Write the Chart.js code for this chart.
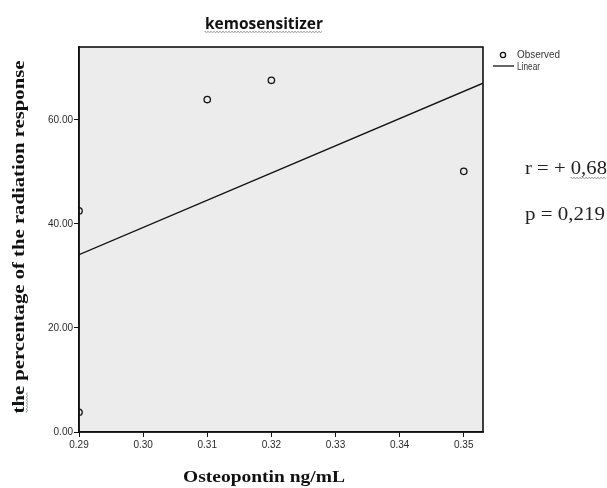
<!DOCTYPE html>
<html><head><meta charset="utf-8">
<script src="https://cdn.jsdelivr.net/npm/chart.js@4/dist/chart.umd.min.js"></script>
<style>html,body{margin:0;padding:0;background:#fff;}#wrap{width:607px;height:488px;}</style>
</head><body><div id="wrap"><canvas id="c" width="607" height="488"></canvas></div>
<script>
// ---- data ----
const osteopontin = [0.29, 0.29, 0.31, 0.32, 0.35];
const radiationResponse = [42.5, 3.8, 63.9, 67.6, 50.1];
const xTicks = [0.29, 0.30, 0.31, 0.32, 0.33, 0.34, 0.35];
const yTicks = [0, 20, 40, 60];
const xRange = [0.29, 0.353];
const yRange = [0, 74];
const chartTitle = 'kemosensitizer';
const xTitle = 'Osteopontin ng/mL';
const yTitle = 'the percentage of the radiation response';
const statLines = ['r = + 0,68', 'p = 0,219'];
const legendLabels = ['Observed', 'Linear'];

// linear fit from the observed points
function linearFit(xs, ys) {
  const n = xs.length;
  const mx = xs.reduce((a, b) => a + b, 0) / n;
  const my = ys.reduce((a, b) => a + b, 0) / n;
  let sxy = 0, sxx = 0;
  for (let i = 0; i < n; i++) { sxy += (xs[i] - mx) * (ys[i] - my); sxx += (xs[i] - mx) ** 2; }
  const b = sxy / sxx;
  return x => my + b * (x - mx);
}
const fit = linearFit(osteopontin, radiationResponse);
const observed = osteopontin.map((x, i) => ({ x, y: radiationResponse[i] }));
const fitLine = xRange.map(x => ({ x, y: fit(x) }));

function fitText(ctx, text, x, y, targetW, font, align) {
  ctx.font = font;
  const w = ctx.measureText(text).width;
  const s = targetW / w;
  ctx.save();
  ctx.translate(x, y);
  ctx.scale(s, 1);
  ctx.textAlign = align;
  ctx.fillText(text, 0, 0);
  ctx.restore();
}
function squiggle(ctx, x0, x1, y) {
  ctx.save();
  ctx.strokeStyle = '#8a95a5';
  ctx.lineWidth = 0.8;
  ctx.beginPath();
  let up = true;
  ctx.moveTo(x0, y);
  for (let x = x0; x <= x1; x += 1.5) { ctx.lineTo(x, up ? y - 1 : y + 1); up = !up; }
  ctx.stroke();
  ctx.restore();
}
function squiggleV(ctx, y0, y1, x) {
  ctx.save();
  ctx.strokeStyle = '#8a95a5';
  ctx.lineWidth = 0.8;
  ctx.beginPath();
  let up = true;
  ctx.moveTo(x, y0);
  for (let y = y0; y >= y1; y -= 1.5) { ctx.lineTo(up ? x - 1 : x + 1, y); up = !up; }
  ctx.stroke();
  ctx.restore();
}

const decor = {
  id: 'decor',
  beforeDraw(chart) {
    const { ctx, chartArea: a } = chart;
    ctx.save();
    ctx.fillStyle = '#ececec';
    ctx.fillRect(a.left, a.top, a.right - a.left, a.bottom - a.top);
    ctx.restore();
  },
  afterDraw(chart) {
    const { ctx, chartArea: a } = chart;
    ctx.save();
    ctx.strokeStyle = '#111';
    ctx.lineWidth = 1.6;
    ctx.strokeRect(a.left, a.top, a.right - a.left, a.bottom - a.top);

    // title
    ctx.fillStyle = '#111';
    ctx.textBaseline = 'alphabetic';
    fitText(ctx, chartTitle, 264, 29, 118, 'bold 16px "Open Sans", "Liberation Sans", sans-serif', 'center');
    squiggle(ctx, 205, 323, 32);

    // x title
    fitText(ctx, xTitle, 264, 482, 162, 'bold 17px "Liberation Serif", "DejaVu Serif", serif', 'center');

    // y title
    ctx.save();
    ctx.translate(24, 237);
    ctx.rotate(-Math.PI / 2);
    fitText(ctx, yTitle, 0, 0, 353, 'bold 17px "Liberation Serif", "DejaVu Serif", serif', 'center');
    ctx.restore();
    squiggleV(ctx, 412, 392, 27);

    // stats
    ctx.fillStyle = '#222';
    fitText(ctx, statLines[0], 525, 174, 82, '19px "Liberation Serif", "DejaVu Serif", serif', 'left');
    fitText(ctx, statLines[1], 525, 220, 80, '19px "Liberation Serif", "DejaVu Serif", serif', 'left');
    squiggle(ctx, 571, 606, 178);

    // legend
    ctx.strokeStyle = '#111';
    ctx.lineWidth = 1.3;
    ctx.beginPath();
    ctx.arc(503, 55, 2.6, 0, Math.PI * 2);
    ctx.stroke();
    ctx.beginPath();
    ctx.moveTo(493, 66);
    ctx.lineTo(514, 66);
    ctx.stroke();
    ctx.fillStyle = '#333';
    ctx.textBaseline = 'middle';
    fitText(ctx, legendLabels[0], 517, 55, 43, '10px "Liberation Sans", Arial, sans-serif', 'left');
    fitText(ctx, legendLabels[1], 517, 67, 23, '10px "Liberation Sans", Arial, sans-serif', 'left');
    ctx.restore();
  }
};

const tickFont = { family: '"Liberation Sans", Arial, sans-serif', size: 10 };
new Chart(document.getElementById('c'), {
  type: 'scatter',
  data: {
    datasets: [
      {
        label: legendLabels[0],
        data: observed,
        showLine: false,
        pointRadius: 3.2,
        pointHoverRadius: 3.2,
        pointBorderWidth: 1.3,
        pointBorderColor: '#111',
        pointBackgroundColor: 'rgba(0,0,0,0)',
        clip: 0
      },
      {
        type: 'line',
        label: legendLabels[1],
        data: fitLine,
        borderColor: '#111',
        borderWidth: 1.3,
        pointRadius: 0,
        fill: false,
        tension: 0,
        clip: 0
      }
    ]
  },
  options: {
    responsive: false,
    animation: false,
    devicePixelRatio: 1,
    layout: { padding: { left: 0, top: 47, right: 124, bottom: 0 } },
    plugins: { legend: { display: false }, tooltip: { enabled: false }, title: { display: false } },
    scales: {
      x: {
        type: 'linear',
        min: xRange[0], max: xRange[1],
        afterBuildTicks: s => { s.ticks = xTicks.map(v => ({ value: v })); },
        afterFit: s => { s.height = 56; },
        ticks: { callback: v => Number(v).toFixed(2), font: tickFont, color: '#2a2a2a', maxRotation: 0, autoSkip: false, padding: 2 },
        grid: { drawOnChartArea: false, drawTicks: true, tickLength: 5, color: '#111', lineWidth: 1 },
        border: { display: true, color: '#111', width: 1.6 }
      },
      y: {
        type: 'linear',
        min: yRange[0], max: yRange[1],
        afterBuildTicks: s => { s.ticks = yTicks.map(v => ({ value: v })); },
        afterFit: s => { s.width = 79; },
        ticks: { callback: v => Number(v).toFixed(2), font: tickFont, color: '#2a2a2a', autoSkip: false, padding: 1 },
        grid: { drawOnChartArea: false, drawTicks: true, tickLength: 5, color: '#111', lineWidth: 1 },
        border: { display: true, color: '#111', width: 1.6 }
      }
    }
  },
  plugins: [decor]
});
</script>
</body></html>
